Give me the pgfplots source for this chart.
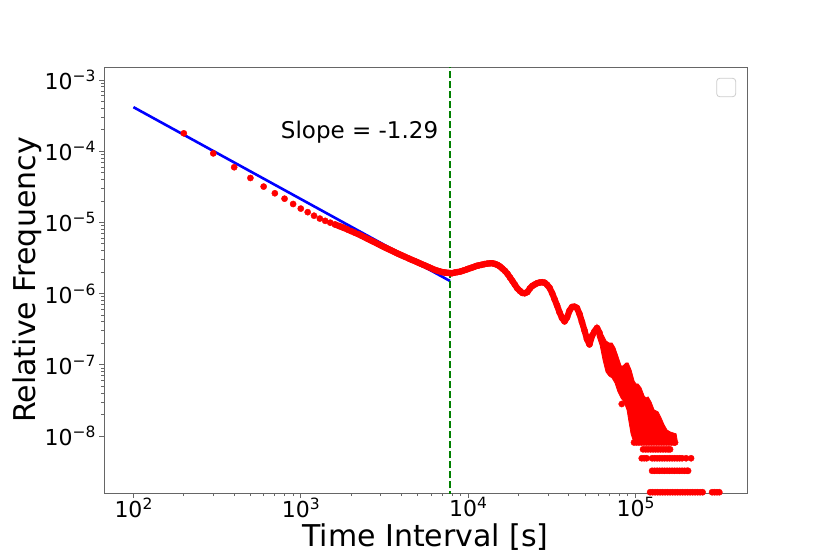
\documentclass[border=0pt]{standalone}
\usepackage{fontspec}
\setmainfont{DejaVu Sans}
\usepackage{pgfplots}
\pgfplotsset{compat=1.18}
\definecolor{mplgreen}{rgb}{0,0.5,0}
\newcommand{\tp}[1]{10\raisebox{8pt}{\fontsize{15.5}{16}\selectfont #1}}
\begin{document}
\begin{tikzpicture}
\begin{axis}[
  scale only axis, width=643pt, height=426pt,
  xmode=log, ymode=log,
  xmin=66.7, xmax=4.64e5, ymin=1.58e-9, ymax=1.52e-3,
  axis line style={black!60, line width=0.8pt},
  tick align=outside, tick pos=left,
  tick style={black!60, line width=0.8pt},
  major tick length=5pt, minor tick length=3pt,
  xtick={100,1000,10000,100000},
  xticklabels={\tp{2},\tp{3},\tp{4},\tp{5}},
  ytick={1e-8,1e-7,1e-6,1e-5,1e-4,1e-3},
  yticklabels={\tp{−8},\tp{−7},\tp{−6},\tp{−5},\tp{−4},\tp{−3}},
  ticklabel style={font=\fontsize{22}{26}\selectfont},
  xticklabel style={yshift=4pt},
  xlabel={Time Interval [s]}, ylabel={Relative Frequency},
  label style={font=\fontsize{30}{36}\selectfont},
  xlabel style={at={(axis description cs:0.5,0)}, anchor=base, yshift=-53.7pt},
  ylabel style={at={(axis description cs:0,0.5)}, anchor=base, yshift=69pt},
]
% early, well separated bins
\addplot[only marks, mark=*, mark size=3.1pt, red, mark options={draw=red, fill=red}] coordinates {
(200,1.78e-4) (300,9.3e-5) (400,5.94e-5) (500,4.2e-5) (600,3.18e-5) (700,2.56e-5)
(800,2.15e-5) (900,1.81e-5) (1000,1.56e-5) (1100,1.39e-5) (1200,1.24e-5) (1300,1.13e-5)
(1400,1.05e-5) (1500,9.9e-6)
(82800,2.81e-8)
};
% dense bins forming a band
\addplot[red, line width=6.2pt, line join=round, line cap=round, mark=*, mark size=3.1pt,
  mark options={draw=red, fill=red, line width=0.4pt}] coordinates {
(1600,9.35e-6) (1700,8.85e-6) (1800,8.4e-6) (1900,7.95e-6)
(2000,7.55e-6) (2100,7.18e-6) (2200,6.85e-6) (2300,6.52e-6) (2400,6.2e-6) (2500,5.9e-6)
(2600,5.63e-6) (2700,5.4e-6) (2800,5.18e-6) (2900,4.96e-6) (3000,4.76e-6) (3100,4.58e-6)
(3200,4.42e-6) (3300,4.27e-6) (3400,4.13e-6) (3500,4.0e-6) (3600,3.87e-6) (3700,3.75e-6)
(3800,3.64e-6) (3900,3.54e-6) (4000,3.45e-6) (4200,3.28e-6) (4400,3.12e-6) (4600,2.98e-6)
(4800,2.86e-6) (5000,2.74e-6) (5200,2.63e-6) (5400,2.53e-6) (5600,2.44e-6) (5800,2.35e-6)
(6000,2.27e-6) (6200,2.19e-6) (6400,2.13e-6) (6600,2.08e-6) (6800,2.04e-6) (7000,2.0e-6)
(7200,1.98e-6) (7400,1.96e-6) (7600,1.95e-6) (7800,1.94e-6)
(8000,1.93e-6) (8300,1.97e-6) (8600,2.0e-6) (9000,2.04e-6) (9300,2.09e-6) (9700,2.16e-6)
(10000,2.22e-6) (10400,2.29e-6) (10800,2.36e-6) (11200,2.44e-6) (11600,2.49e-6) (12000,2.53e-6)
(12500,2.59e-6) (13000,2.63e-6) (13500,2.66e-6) (14000,2.66e-6) (14500,2.60e-6) (15000,2.52e-6)
(15500,2.40e-6) (16000,2.25e-6) (16600,2.08e-6) (17200,1.89e-6) (17800,1.68e-6) (18400,1.50e-6)
(19000,1.34e-6) (19700,1.18e-6) (20400,1.09e-6) (21100,1.02e-6) (21800,1.01e-6) (22600,1.05e-6)
(23400,1.18e-6) (24200,1.28e-6) (25000,1.34e-6) (25900,1.40e-6) (26800,1.43e-6) (27700,1.44e-6)
(28700,1.42e-6) (29700,1.32e-6) (30700,1.20e-6) (31800,1.01e-6) (32900,8.26e-7) (34000,6.81e-7)
(35200,5.43e-7) (36400,4.54e-7) (37700,4.06e-7) (39000,4.62e-7) (40400,5.79e-7) (41800,6.48e-7)
(43200,6.55e-7) (44700,6.28e-7) (46300,5.17e-7) (47900,3.99e-7) (49600,3.03e-7) (51300,2.30e-7)
(53100,1.93e-7) (55000,2.54e-7) (56900,2.94e-7) (58900,3.29e-7) (61000,2.80e-7)
};
% dense noisy tail
\addplot[fill=red, draw=red, line width=0.8pt] coordinates {
(58950,3.62e-7) (61430,3.08e-7) (64020,2.62e-7) (66720,2.16e-7) (69530,2.02e-7) (72460,2.02e-7)
(75520,1.72e-7) (78700,1.29e-7) (82020,9.62e-8) (84320,9.62e-8) (87860,1.06e-7) (90320,1.06e-7)
(94130,8.45e-8) (98080,5.92e-8) (100800,5.37e-8) (103600,5.37e-8) (108000,4.72e-8) (112600,3.65e-8)
(115700,3.42e-8) (119000,3.53e-8) (123900,3.0e-8) (129200,2.32e-8) (132800,2.25e-8) (136500,2.17e-8)
(142200,1.79e-8) (148300,1.43e-8) (154500,1.21e-8) (161000,1.14e-8) (174900,1.07e-8) (177300,8.79e-9)
(96760,8.79e-9) (94130,1.07e-8) (91560,1.57e-8) (89090,2.32e-8) (85490,3.0e-8) (82020,3.42e-8)
(78700,4.15e-8) (75520,5.55e-8) (72460,6.53e-8) (69530,6.96e-8) (66720,7.92e-8) (64020,1.17e-7)
(61430,1.90e-7) (58950,2.54e-7)
} --cycle;
% discrete count levels
\addplot[only marks, mark=*, mark size=3.1pt, red, mark options={draw=red, fill=red}] coordinates {
(98000,8.1e-9) (101400,8.1e-9) (105000,8.1e-9) (108700,8.1e-9) (112500,8.1e-9) (116400,8.1e-9)
(120500,8.1e-9) (124700,8.1e-9) (129100,8.1e-9) (133600,8.1e-9) (138300,8.1e-9) (143100,8.1e-9)
(148100,8.1e-9) (153300,8.1e-9) (158700,8.1e-9) (164200,8.1e-9) (170000,8.1e-9) (172500,8.1e-9)
(111000,6.48e-9) (114900,6.48e-9) (118900,6.48e-9) (123100,6.48e-9) (127400,6.48e-9) (131800,6.48e-9)
(136400,6.48e-9) (141200,6.48e-9) (146200,6.48e-9) (151300,6.48e-9) (156600,6.48e-9) (161000,6.48e-9)
(109000,4.86e-9) (112800,4.86e-9) (116700,4.86e-9) (125700,4.86e-9) (130100,4.86e-9) (134700,4.86e-9)
(139400,4.86e-9) (144300,4.86e-9) (149300,4.86e-9) (154500,4.86e-9) (159900,4.86e-9) (165500,4.86e-9)
(171300,4.86e-9) (177300,4.86e-9) (183500,4.86e-9) (189900,4.86e-9) (200700,4.86e-9) (215000,4.86e-9)
(125700,3.24e-9) (130100,3.24e-9) (134700,3.24e-9) (139400,3.24e-9) (144300,3.24e-9) (149300,3.24e-9)
(154500,3.24e-9) (159900,3.24e-9) (165500,3.24e-9) (171300,3.24e-9) (177300,3.24e-9) (183500,3.24e-9)
(189900,3.24e-9) (196600,3.24e-9) (203400,3.24e-9) (206300,3.24e-9)
(122300,1.62e-9) (126600,1.62e-9) (131000,1.62e-9) (135600,1.62e-9) (140300,1.62e-9) (145200,1.62e-9)
(150300,1.62e-9) (155600,1.62e-9) (161000,1.62e-9) (166700,1.62e-9) (172500,1.62e-9) (178500,1.62e-9)
(184800,1.62e-9) (191300,1.62e-9) (198000,1.62e-9) (204900,1.62e-9) (212100,1.62e-9) (219500,1.62e-9)
(227200,1.62e-9) (235100,1.62e-9) (243400,1.62e-9) (251900,1.62e-9)
(287000,1.62e-9) (297000,1.62e-9) (307000,1.62e-9) (317000,1.62e-9)
};
% power-law fit
\addplot[blue, line width=2.6pt] coordinates {(100,4.15e-4) (7800,1.50e-6)};
% cutoff
\addplot[mplgreen, line width=2pt, dash pattern=on 7pt off 3pt] coordinates {(7800,1e-10) (7800,1e-2)};
\node[anchor=base east, font=\fontsize{23}{28}\selectfont] at (axis cs:6950,1.52e-4) {Slope = -1.29};
\draw[black!20, line width=0.8pt, rounded corners=3pt, fill=white] (rel axis cs:0.9529,0.9303) rectangle (rel axis cs:0.9824,0.9735);
\end{axis}
\pgfresetboundingbox
\path[use as bounding box] (-104pt,-61pt) rectangle (726pt,493pt);
\end{tikzpicture}
\end{document}
